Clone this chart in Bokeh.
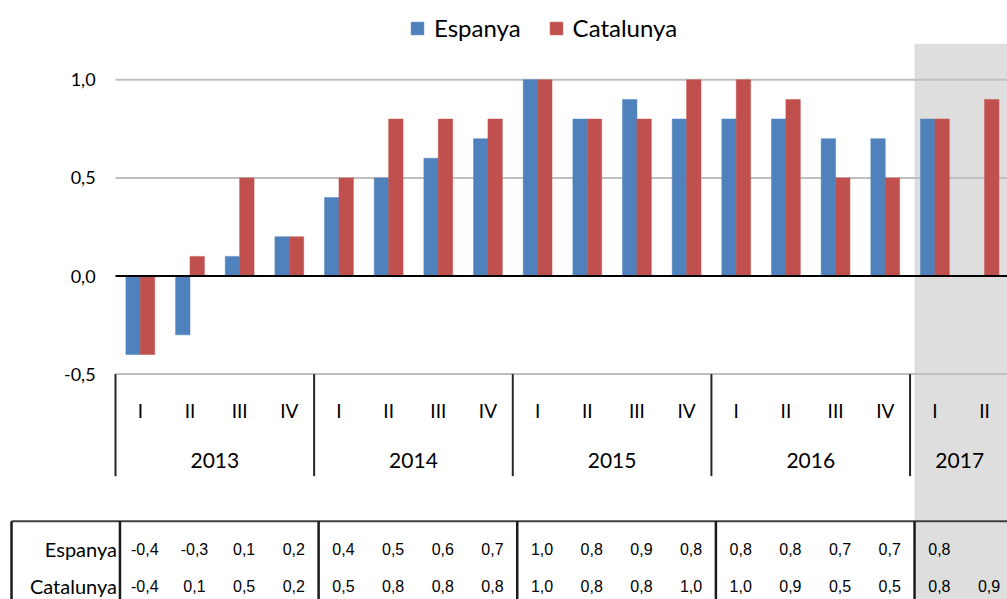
import numpy as np
from bokeh.plotting import figure
from bokeh.models import Range1d, Legend, LegendItem, ColumnDataSource
from bokeh.embed import file_html
from bokeh.resources import INLINE
from bokeh.core.properties import value

# ---------------- data ----------------
years = ["2013", "2014", "2015", "2016", "2017"]
quarters_per_year = [4, 4, 4, 4, 2]
quarter_names = ["I", "II", "III", "IV"]
series_names = ["Espanya", "Catalunya"]
espanya = [-0.4, -0.3, 0.1, 0.2, 0.4, 0.5, 0.6, 0.7, 1.0, 0.8, 0.9, 0.8,
           0.8, 0.8, 0.7, 0.7, 0.8, None]
catalunya = [-0.4, 0.1, 0.5, 0.2, 0.5, 0.8, 0.8, 0.8, 1.0, 0.8, 0.8, 1.0,
             1.0, 0.9, 0.5, 0.5, 0.8, 0.9]
y_ticks = [-0.5, 0.0, 0.5, 1.0]
shaded_year = "2017"

# ---------------- styles ----------------
BLUE = "#4F81BD"
RED = "#C0504D"
SHADE = "#DEDEDE"
GRID = "#BFBFBF"
FONT = "Lato"
TFONT = "Liberation Sans"

quarters = []
for y, n in zip(years, quarters_per_year):
    quarters += quarter_names[:n]
n_cat = len(quarters)
centers = np.arange(n_cat) + 0.5
bounds = np.concatenate([[0], np.cumsum(quarters_per_year)[:-1]]).astype(float)
year_centers = bounds + np.array(quarters_per_year) / 2.0
shade_start = float(bounds[years.index(shaded_year)])

def fmt(v):
    return "" if v is None else f"{v:.1f}".replace(".", ",")

# one frame covering the whole page; x in category units, y in value units
p = figure(width=1007, height=599, x_range=Range1d(-2.3157, 17.962),
           y_range=Range1d(-1.6488, 1.4042), output_backend="svg",
           toolbar_location=None, x_axis_location=None, y_axis_location=None,
           min_border_left=0, min_border_right=0, min_border_top=0,
           min_border_bottom=0)
p.outline_line_color = None
p.grid.visible = False

# shaded last-year region
p.quad(left=shade_start + 0.09, right=20, bottom=-3, top=1.184,
       fill_color=SHADE, line_color=None)

# value axis: gridlines + labels
grid_ticks = [t for t in y_ticks if t != 0]
p.segment(x0=[0] * len(grid_ticks), x1=[20] * len(grid_ticks), y0=grid_ticks,
          y1=grid_ticks, line_color=GRID, line_width=2)
p.text(x=[-0.40] * len(y_ticks), y=y_ticks, text=[fmt(t) for t in y_ticks],
       text_align="right", text_baseline="middle", text_font=value(FONT),
       text_font_size="18px", text_color="#000000")

# bars
bw = 0.29
def bar_source(vals, offset):
    xs = [c + offset for c, v in zip(centers, vals) if v is not None]
    ts = [v for v in vals if v is not None]
    return ColumnDataSource(dict(x=xs, top=ts))

rb = p.vbar(x="x", top="top", bottom=0, width=bw, source=bar_source(espanya, -bw / 2),
            fill_color=BLUE, line_color=BLUE, line_width=0.5)
rr = p.vbar(x="x", top="top", bottom=0, width=bw, source=bar_source(catalunya, bw / 2),
            fill_color=RED, line_color=RED, line_width=0.5)

# zero line
p.segment(x0=[0], x1=[20], y0=[0], y1=[0], line_color="black", line_width=2)

# category axis (quarters / years) with separators
p.segment(x0=bounds, x1=bounds, y0=[-0.5] * len(bounds), y1=[-1.02] * len(bounds),
          line_color="#262626", line_width=2)
p.text(x=centers, y=[-0.6855] * n_cat, text=quarters, text_align="center",
       text_baseline="middle", text_font=value(FONT), text_font_size="19px",
       text_color="#000000")
p.text(x=year_centers, y=[-0.94] * len(years), text=years, text_align="center",
       text_baseline="middle", text_font=value(FONT), text_font_size="21px",
       text_color="#000000")

# legend
legend = Legend(items=[LegendItem(label=series_names[0], renderers=[rb]),
                       LegendItem(label=series_names[1], renderers=[rr])],
                orientation="horizontal", location=(409, 557),
                glyph_width=16, glyph_height=16, label_standoff=9, spacing=27,
                padding=0, margin=0, border_line_color=None,
                background_fill_alpha=0, label_text_font=FONT,
                label_text_font_size="24px", label_text_color="#000000")
p.add_layout(legend)

# data table
TDX = 0.09          # table columns sit slightly right of the chart columns
table_top = -1.2497
table_left = -2.094
row_y = [-1.389, -1.5775]
p.segment(x0=[table_left], x1=[20], y0=[table_top], y1=[table_top],
          line_color="#404040", line_width=2)
vx = [table_left] + list(bounds + TDX)
p.segment(x0=vx, x1=vx, y0=[table_top] * len(vx), y1=[-3] * len(vx),
          line_color="#1a1a1a", line_width=2.5)
for ry, name, vals in zip(row_y, series_names, [espanya, catalunya]):
    p.text(x=[-0.06 + TDX], y=[ry], text=[name], text_align="right",
           text_baseline="middle", text_font=value(FONT), text_font_size="20px",
           text_color="#000000")
    p.text(x=centers + TDX, y=[ry] * n_cat, text=[fmt(v) for v in vals],
           text_align="center", text_baseline="middle", text_font=value(TFONT),
           text_font_size="16px", text_color="#000000")

open("out.html", "w").write(file_html(p, INLINE))
